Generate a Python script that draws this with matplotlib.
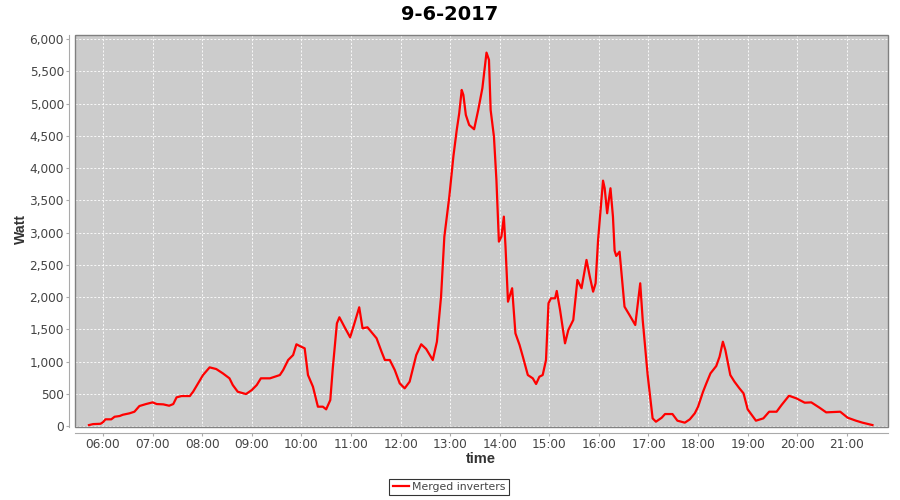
import matplotlib
matplotlib.use("Agg")
import matplotlib.pyplot as plt
from matplotlib.ticker import FuncFormatter, FixedLocator
from matplotlib.patches import Rectangle

title = "9-6-2017"
series_name = "Merged inverters"
x_label = "time"
y_label = "Watt"

times = ["05:43", "05:48", "05:57", "06:00", "06:03", "06:10", "06:14", "06:20", "06:24", "06:32",
         "06:38", "06:44", "06:52", "07:00", "07:05", "07:13", "07:20", "07:25", "07:29", "07:35",
         "07:45", "07:49", "07:55", "08:01", "08:09", "08:17", "08:25", "08:33", "08:37", "08:43",
         "08:53", "09:00", "09:06", "09:11", "09:22", "09:34", "09:38", "09:44", "09:50", "09:54",
         "09:58", "10:04", "10:08", "10:14", "10:20", "10:26", "10:30", "10:35", "10:38", "10:43",
         "10:46", "10:52", "10:59", "11:04", "11:10", "11:14", "11:20", "11:31", "11:37", "11:41",
         "11:47", "11:53", "11:59", "12:05", "12:11", "12:19", "12:25", "12:31", "12:39", "12:44",
         "12:49", "12:53", "12:59", "13:04", "13:08", "13:11", "13:14", "13:16", "13:19", "13:23",
         "13:29", "13:34", "13:39", "13:42", "13:44", "13:47", "13:49", "13:53", "13:56", "13:59",
         "14:02", "14:05", "14:07", "14:10", "14:15", "14:19", "14:24", "14:28", "14:34", "14:40",
         "14:44", "14:48", "14:52", "14:56", "14:59", "15:02", "15:07", "15:09", "15:13", "15:19",
         "15:23", "15:29", "15:34", "15:39", "15:45", "15:49", "15:53", "15:56", "15:59", "16:02",
         "16:05", "16:07", "16:10", "16:12", "16:14", "16:17", "16:19", "16:21", "16:25", "16:31",
         "16:37", "16:44", "16:50", "16:53", "16:59", "17:05", "17:09", "17:16", "17:20", "17:29",
         "17:35", "17:44", "17:50", "17:56", "18:00", "18:06", "18:10", "18:15", "18:22", "18:26",
         "18:30", "18:33", "18:39", "18:44", "18:50", "18:55", "19:00", "19:10", "19:19", "19:26",
         "19:35", "19:41", "19:50", "19:59", "20:09", "20:17", "20:27", "20:35", "20:52", "21:01",
         "21:11", "21:19", "21:31"]
watts = [15, 30, 35, 60, 104, 104, 144, 155, 175, 197,
         222, 310, 341, 367, 341, 336, 315, 341, 445, 465,
         465, 532, 662, 791, 910, 884, 817, 740, 636, 532,
         496, 558, 636, 740, 740, 791, 869, 1024, 1101, 1268,
         1241, 1205, 791, 610, 300, 300, 259, 403, 895, 1593,
         1687, 1541, 1376, 1583, 1842, 1516, 1531, 1361, 1153, 1024,
         1024, 869, 662, 585, 688, 1101, 1268, 1195, 1024, 1308,
         2006, 2937, 3558, 4189, 4593, 4852, 5213, 5136, 4825, 4670,
         4603, 4903, 5240, 5575, 5792, 5679, 4903, 4489, 3817, 2860,
         2937, 3248, 2782, 1929, 2137, 1438, 1257, 1075, 791, 740,
         652, 765, 791, 1024, 1904, 1981, 1981, 2095, 1800, 1283,
         1490, 1645, 2265, 2137, 2576, 2317, 2084, 2214, 2886, 3351,
         3806, 3688, 3300, 3506, 3688, 3248, 2720, 2638, 2704, 1851,
         1722, 1567, 2214, 1645, 791, 119, 67, 129, 186, 186,
         83, 52, 104, 197, 300, 532, 662, 817, 931, 1075,
         1308, 1179, 791, 688, 585, 507, 259, 83, 119, 222,
         222, 326, 470, 429, 362, 367, 284, 212, 222, 129,
         83, 52, 15]

hour_ticks = list(range(6, 22))
y_ticks = list(range(0, 6001, 500))


def to_hours(s):
    h, m = s.split(":")
    return int(h) + int(m) / 60.0


xs = [to_hours(t) for t in times]

fig = plt.figure(figsize=(9, 5), dpi=100)
fig.patch.set_facecolor("white")
ax = fig.add_axes([75 / 900, 1 - 427 / 500, (888 - 75) / 900, (427 - 35) / 500])
ax.set_facecolor("#cccccc")

ax.plot(xs, watts, color="#ff0000", lw=1.6, solid_joinstyle="round", label=series_name, zorder=3)

ax.set_xlim(5.435, 21.83)
ax.set_ylim(-15, 6065)

ax.xaxis.set_major_locator(FixedLocator(hour_ticks))
ax.xaxis.set_major_formatter(FuncFormatter(lambda v, p: "%02d:00" % int(round(v))))
ax.yaxis.set_major_locator(FixedLocator(y_ticks))
ax.yaxis.set_major_formatter(FuncFormatter(lambda v, p: "{:,}".format(int(v))))

ax.grid(True, color="white", linestyle=(0, (2.5, 2)), linewidth=0.6)
ax.set_axisbelow(True)

for side in ["top", "right"]:
    ax.spines[side].set_visible(False)
ax.spines["left"].set_position(("outward", 4))
ax.spines["bottom"].set_position(("outward", 4))
ax.spines["left"].set_color("#aaaaaa")
ax.spines["bottom"].set_color("#aaaaaa")
ax.add_patch(Rectangle((0, 0), 1, 1, transform=ax.transAxes, fill=False,
                       edgecolor="#808080", lw=1.0, zorder=5, clip_on=False))

ax.tick_params(axis="both", colors="#aaaaaa", labelcolor="#444444", length=2, width=0.8,
               labelsize=8.7, pad=2)

fig.text(0.5, 1 - 14 / 500, title, ha="center", va="center", fontsize=14, fontweight="bold")
fig.text(481 / 900, 1 - 459 / 500, x_label, ha="center", va="center", fontsize=10.5,
         fontweight="bold", color="#333333", family="Liberation Sans")
fig.text(21 / 900, 1 - 229 / 500, y_label, ha="center", va="center", rotation=90,
         fontsize=10.2, fontweight="bold", color="#333333", family="Liberation Sans")

leg = fig.legend(loc="center", bbox_to_anchor=(449 / 900, 1 - 487 / 500), frameon=True,
                 fancybox=False, fontsize=7.8, handlelength=1.5, handletextpad=0.3,
                 borderpad=0.3, borderaxespad=0)
leg.get_frame().set_edgecolor("black")
leg.get_frame().set_linewidth(0.8)
for t in leg.get_texts():
    t.set_color("#444444")

fig.savefig("out.png", dpi=100)
